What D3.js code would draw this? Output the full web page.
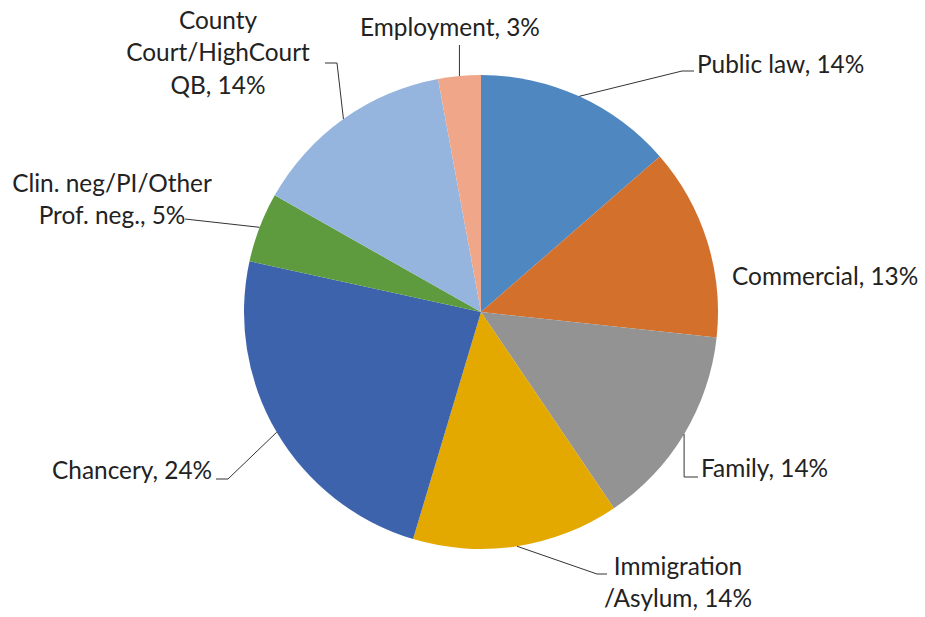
<!DOCTYPE html>
<html>
<head>
<meta charset="utf-8">
<script src="https://cdn.jsdelivr.net/npm/d3@7/dist/d3.min.js"></script>
<style>
html,body{margin:0;padding:0;background:#fff;}
svg{display:block;}
text{font-family:Lato,"Noto Sans",sans-serif;fill:#222;}
</style>
</head>
<body>
<svg id="chart" width="925" height="617"></svg>
<script>
const categories = ["Public law","Commercial","Family","Immigration /Asylum","Chancery","Clin. neg/PI/Other Prof. neg.","County Court/HighCourt QB","Employment"];
const values = [13.6, 13.1, 13.8, 14.1, 23.8, 4.75, 13.9, 2.9];
const percentLabels = ["14%","13%","14%","14%","24%","5%","14%","3%"];
const labelLines = [
  ["Public law, 14%"],
  ["Commercial, 13%"],
  ["Family, 14%"],
  ["Immigration","/Asylum, 14%"],
  ["Chancery, 24%"],
  ["Clin. neg/PI/Other","Prof. neg., 5%"],
  ["County","Court/HighCourt","QB, 14%"],
  ["Employment, 3%"]
];
const colors = ["#4F87C0","#D2702C","#939393","#E3A900","#3C63AB","#5E9A3E","#95B5DF","#F0A688"];

// layout (positions only)
const cx = 481, cy = 312, R = 237;
const labelLayout = [
  {x:697, y:64, anchor:"start", elbow:[682,71], end:[694,71]},
  {x:732, y:276, anchor:"start", elbow:null},
  {x:701, y:468, anchor:"start", elbow:[683,477], end:[698,477], vertical:true},
  {x:678, y:566, anchor:"middle", elbow:[597,574], end:[607,574]},
  {x:52, y:470, anchor:"start", elbow:[228,479], end:[216,479]},
  {x:112, y:183, anchor:"middle", elbow:[185,219], end:[185,219]},
  {x:218, y:20, anchor:"middle", elbow:[337,63], end:[325,63]},
  {x:450, y:27, anchor:"middle", elbow:[458,45], end:[458,45], vertical:true}
];
const lineH = 32.5;
const fontSize = 24.4;

const svg = d3.select("#chart");
const pie = d3.pie().sort(null).value(d => d)(values);
const arc = d3.arc().innerRadius(0).outerRadius(R);

const g = svg.append("g").attr("transform", `translate(${cx},${cy})`);
g.selectAll("path").data(pie).join("path")
  .attr("d", arc)
  .attr("fill", (d,i) => colors[i])
  .attr("stroke", "none");

// leader lines
pie.forEach((d,i) => {
  const L = labelLayout[i];
  if (!L.elbow) return;
  const mid = (d.startAngle + d.endAngle)/2;
  const px = cx + R*Math.sin(mid), py = cy - R*Math.cos(mid);
  let pts;
  if (L.vertical && i === 2) pts = [[px,py],[px,L.elbow[1]],[L.end[0],L.end[1]]];
  else if (L.vertical) pts = [[px,py],[px,L.elbow[1]]];
  else pts = [[px,py],L.elbow,L.end];
  svg.append("path")
    .attr("d", d3.line()(pts))
    .attr("fill","none")
    .attr("stroke","#333")
    .attr("stroke-width",1);
});

// labels
labelLines.forEach((lines,i) => {
  const L = labelLayout[i];
  const t = svg.append("text")
    .attr("text-anchor", L.anchor)
    .attr("font-size", fontSize);
  lines.forEach((s,k) => {
    t.append("tspan")
      .attr("x", L.x)
      .attr("y", L.y + k*lineH)
      .attr("dy","0.35em")
      .text(s);
  });
});
</script>
</body>
</html>
